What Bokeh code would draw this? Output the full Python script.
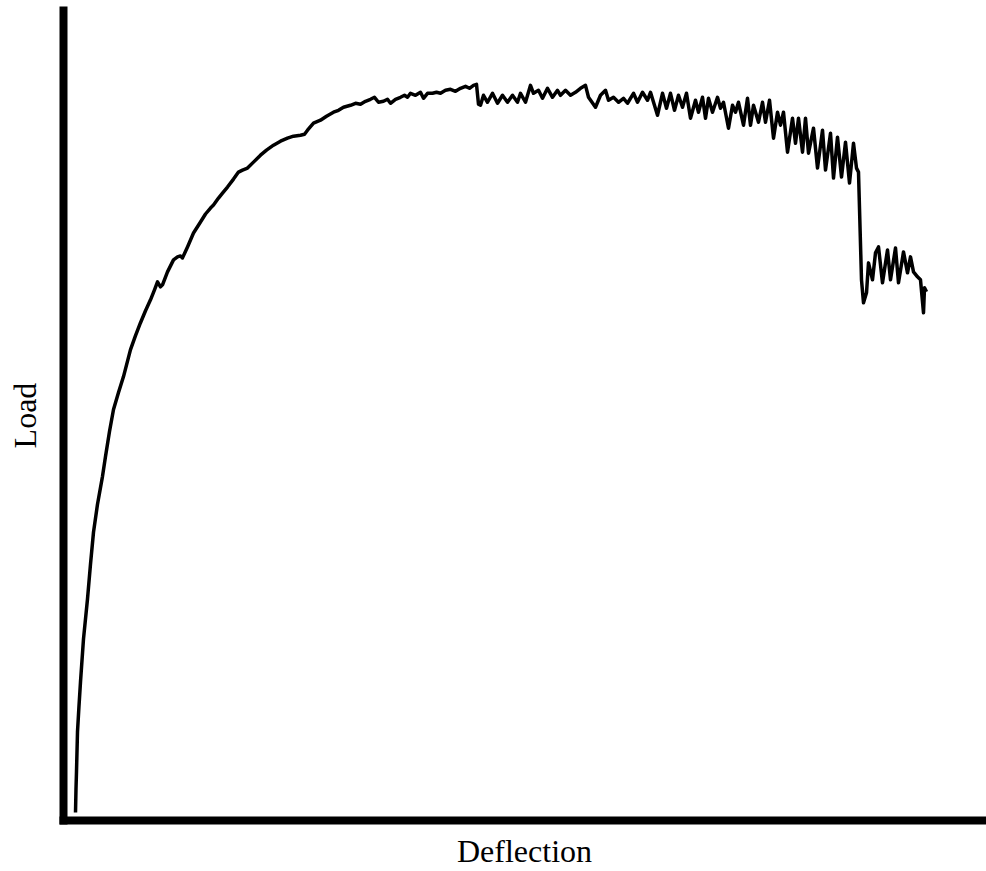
from bokeh.plotting import figure
from bokeh.models import Range1d, FixedTicker
from bokeh.embed import file_html
from bokeh.resources import INLINE

# Values (arbitrary units; the chart has no tick labels)
deflection = [
    12, 12.5, 13, 14, 15.5, 17, 20, 24, 27, 30, 34, 39, 42, 46, 50, 55, 60, 67, 72, 77, 82, 87, 91,
    94, 97, 99, 104, 110, 114, 117, 119, 124, 130, 137, 142, 147, 150, 155, 159, 164, 170, 175, 179,
    184, 190, 197, 203, 210, 217, 224, 230, 237, 241, 244, 250, 257, 263, 270, 275, 280, 287, 292, 297,
    302, 307, 311, 315, 320, 324, 327, 332, 337, 341, 344, 347, 352, 357, 360, 364, 369, 373, 377, 382,
    387, 392, 397, 402, 406, 410, 413, 415, 417, 420, 424, 429, 434, 439, 444, 449, 454, 457, 462, 467,
    470, 475, 479, 484, 489, 494, 497, 502, 507, 512, 517, 522, 525, 532, 537, 542, 545, 550, 555, 560,
    564, 570, 574, 579, 584, 587, 594, 599, 603, 607, 611, 615, 619, 623, 627, 632, 635, 639, 642, 645,
    649, 654, 657, 660, 665, 669, 672, 675, 680, 684, 687, 690, 695, 699, 702, 706, 710, 714, 717, 720,
    724, 729, 732, 735, 739, 742, 745, 750, 754, 759, 762, 767, 770, 774, 778, 782, 786, 790, 793, 795,
    798, 800, 803, 805, 809, 812, 815, 819, 824, 827, 832, 835, 840, 844, 847, 850, 854, 857, 860, 861,
    863,
]
load = [
    8, 32, 49, 89, 115, 139, 182, 222, 257, 289, 317, 345, 365, 390, 412, 429, 445, 472, 486, 499, 511, 522, 532,
    540, 535, 537, 550, 562, 565, 566, 564, 575, 589, 600, 608, 614, 617, 624, 629, 635, 643, 650, 652,
    654, 660, 667, 672, 677, 681, 684, 686, 687, 688, 692, 699, 702, 706, 710, 712, 715, 717, 719, 718,
    721, 723, 725, 720, 721, 723, 719, 723, 725, 727, 725, 729, 727, 730, 724, 729, 729, 730, 729, 732,
    733, 731, 734, 736, 734, 737, 738, 718, 717, 727, 720, 729, 719, 727, 720, 727, 720, 729, 720, 737,
    729, 732, 724, 734, 725, 732, 727, 732, 727, 730, 734, 737, 725, 715, 727, 732, 722, 725, 720, 724,
    719, 729, 720, 730, 722, 730, 707, 729, 714, 729, 712, 727, 715, 729, 704, 722, 710, 725, 704, 724,
    710, 725, 714, 720, 694, 717, 710, 720, 697, 724, 697, 717, 700, 720, 700, 722, 684, 710, 697, 710,
    670, 704, 679, 704, 670, 704, 669, 694, 654, 692, 652, 689, 644, 685, 645, 680, 639, 679, 654, 650,
    542, 519, 529, 559, 542, 569, 575, 539, 572, 542, 574, 539, 570, 549, 565, 550, 545, 542, 509, 534,
    530,
]

x_label = "Deflection"
y_label = "Load"
serif = "Liberation Serif"

p = figure(width=986, height=871, output_backend="svg", toolbar_location=None,
           x_range=Range1d(0, 922), y_range=Range1d(0, 812),
           min_border_left=63, min_border_right=1, min_border_top=10, min_border_bottom=49,
           x_axis_label=x_label, y_axis_label=y_label)

p.line(deflection, load, line_color="black", line_width=3.5, line_join="round")

p.grid.visible = False
p.outline_line_color = None
p.background_fill_color = "white"
p.border_fill_color = "white"

for ax in (p.xaxis[0], p.yaxis[0]):
    ax.ticker = FixedTicker(ticks=[])
    ax.major_tick_line_color = None
    ax.minor_tick_line_color = None
    ax.major_tick_out = 0
    ax.major_tick_in = 0
    ax.minor_tick_out = 0
    ax.major_label_standoff = 0
    ax.major_label_text_font_size = "0px"
    ax.axis_line_color = "black"
    ax.axis_line_width = 8
    ax.axis_line_cap = "square"
    ax.axis_label_text_font = serif
    ax.axis_label_text_font_size = "32px"
    ax.axis_label_text_font_style = "normal"
    ax.axis_label_text_color = "black"

p.xaxis[0].axis_label_standoff = 12
p.yaxis[0].axis_label_standoff = 21

open("out.html", "w").write(file_html(p, INLINE))
